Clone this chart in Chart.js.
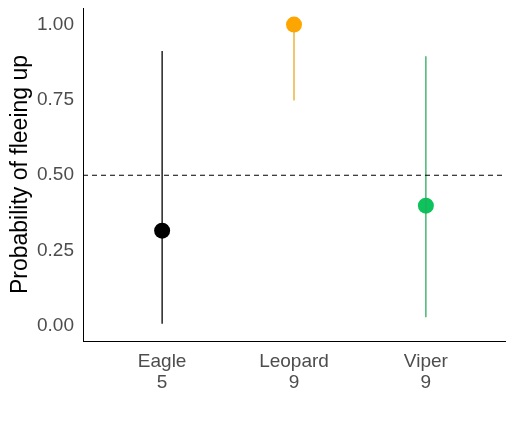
<!DOCTYPE html>
<html>
<head>
<meta charset="utf-8">
<script src="https://cdn.jsdelivr.net/npm/chart.js@4"></script>
<style>
  html, body { margin: 0; padding: 0; background: #fff; }
  #wrap { width: 517px; height: 428px; }
</style>
</head>
<body>
<div id="wrap"><canvas id="chart"></canvas></div>
<script>
// Data
const categories = ['Eagle', 'Leopard', 'Viper'];
const counts = ['5', '9', '9'];
const estimates = [0.316, 1.0, 0.399];
const lower = [0.007, 0.748, 0.029];
const upper = [0.912, 1.0, 0.895];
const pointColors = ['#000000', '#FFA500', '#0DC35C'];
const barColors = ['#000000', '#E8A91E', '#2BAA5F'];
const yTicks = [0, 0.25, 0.5, 0.75, 1.0];
const refLine = 0.5;

const FONT = "'Liberation Sans', Arial, sans-serif";

const datasets = [];

// reference line
datasets.push({
    type: 'line',
    data: [{ x: 0.4, y: refLine }, { x: 3.6, y: refLine }],
    borderColor: '#000',
    borderWidth: 1,
    borderDash: [5, 4],
    pointRadius: 0
});

// error bars
categories.forEach((c, i) => {
    datasets.push({
        type: 'line',
        data: [{ x: i + 1, y: lower[i] }, { x: i + 1, y: upper[i] }],
        borderColor: barColors[i],
        borderWidth: 1.3,
        pointRadius: 0
    });
});

// points
datasets.push({
    type: 'scatter',
    data: estimates.map((v, i) => ({ x: i + 1, y: v })),
    backgroundColor: pointColors,
    borderColor: pointColors,
    pointRadius: 8,
    borderWidth: 0
});

new Chart(document.getElementById('chart'), {
    type: 'scatter',
    data: { datasets },
    options: {
        responsive: true,
        maintainAspectRatio: false,
        animation: false,
        layout: { padding: { top: 8, right: 12, left: 0, bottom: 0 } },
        plugins: {
            legend: { display: false },
            tooltip: { enabled: false }
        },
        scales: {
            x: {
                type: 'linear',
                min: 0.4,
                max: 3.6,
                afterBuildTicks: (axis) => {
                    axis.ticks = categories.map((c, i) => ({ value: i + 1 }));
                },
                afterFit: (axis) => { axis.height = 87; },
                grid: { display: false, drawTicks: false },
                border: { display: true, color: '#000', width: 1 },
                ticks: {
                    padding: 10,
                    color: '#4D4D4D',
                    font: { family: FONT, size: 19, lineHeight: 1.12 },
                    maxRotation: 0,
                    autoSkip: false,
                    callback: (v) => {
                        const i = Math.round(v) - 1;
                        return [categories[i], counts[i]];
                    }
                }
            },
            y: {
                min: -0.05,
                max: 1.055,
                afterBuildTicks: (axis) => {
                    axis.ticks = yTicks.map(v => ({ value: v }));
                },
                afterFit: (axis) => {
                    axis.width = 83;
                    axis.paddingTop = 0;
                    axis.paddingBottom = 0;
                },
                grid: { display: false, drawTicks: false },
                border: { display: true, color: '#000', width: 1 },
                title: {
                    display: true,
                    text: 'Probability of fleeing up',
                    color: '#000',
                    font: { family: FONT, size: 23 },
                    padding: { top: 7, bottom: 2 }
                },
                ticks: {
                    padding: 9,
                    color: '#4D4D4D',
                    font: { family: FONT, size: 19 },
                    callback: (v) => v.toFixed(2)
                }
            }
        }
    }
});
</script>
</body>
</html>
